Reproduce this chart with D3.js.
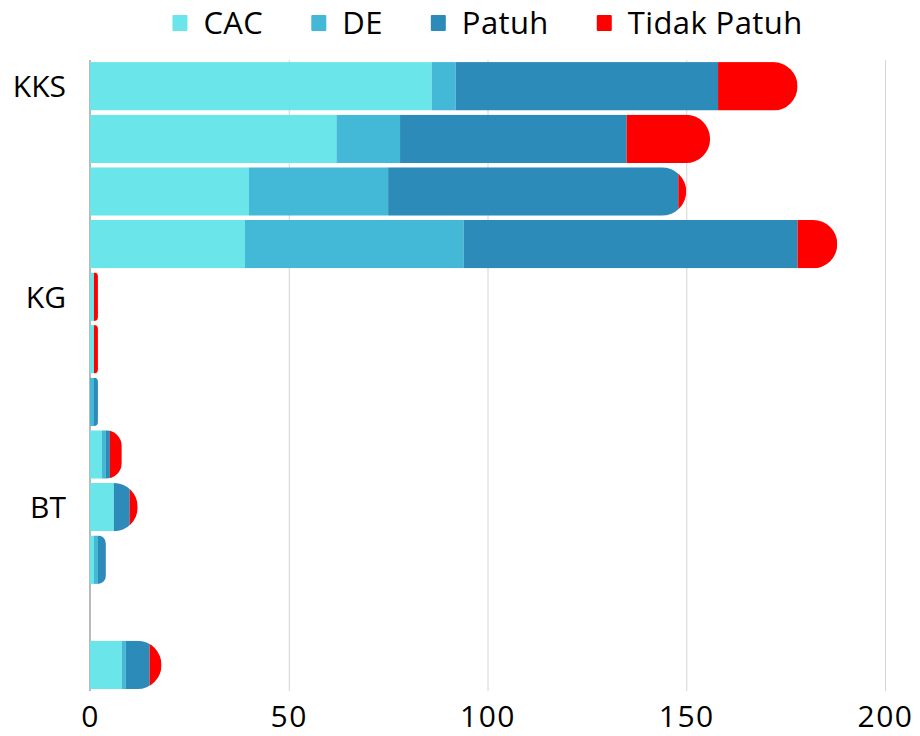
<!DOCTYPE html>
<html>
<head>
<meta charset="utf-8">
<script src="https://cdn.jsdelivr.net/npm/d3@7"></script>
<style>
  html, body { margin: 0; padding: 0; background: #fff; }
  svg { display: block; font-family: "Open Sans", "Liberation Sans", sans-serif; }
</style>
</head>
<body>
<svg id="chart" width="920" height="736"></svg>
<script>
// ---- data ----
const rowLabels = ["KKS", "", "", "", "KG", "", "", "", "BT", "", "", ""];
const seriesNames = ["CAC", "DE", "Patuh", "Tidak Patuh"];
const cacValues    = [86, 62, 40, 39, 1, 1, 0, 3, 6, 1, 0, 8];
const deValues     = [6, 16, 35, 55, 0, 0, 1, 1, 0, 1, 0, 1];
const patuhValues  = [66, 57, 73, 84, 0, 0, 1, 1, 4, 2, 0, 6];
const tidakValues  = [20, 21, 2, 10, 1, 1, 0, 3, 2, 0, 0, 3];
const xTicks = [0, 50, 100, 150, 200];
const colors = ["#6ae5e9", "#43b8d7", "#2d8bba", "#ff0000"];

// ---- build table ----
const rows = rowLabels.map((lab, i) => ({
  idx: i, label: lab,
  "CAC": cacValues[i], "DE": deValues[i], "Patuh": patuhValues[i], "Tidak Patuh": tidakValues[i]
}));

const svg = d3.select("#chart");
const x = d3.scaleLinear().domain([0, 200]).range([90, 885]);
const y = d3.scaleBand().domain(rows.map(d => d.idx)).range([60, 691.2])
  .paddingInner(0.08).paddingOuter(0.04);
const color = d3.scaleOrdinal().domain(seriesNames).range(colors);

// gridlines
const grid = svg.append("g").attr("transform", "translate(0,60)")
  .call(d3.axisBottom(x).tickValues(xTicks.filter(t => t > 0)).tickSize(631).tickFormat(""));
grid.select(".domain").remove();
grid.selectAll("line").attr("stroke", "#d4d4d4").attr("stroke-width", 1);

// y axis line
const yAxis = svg.append("g").attr("transform", "translate(90,0)")
  .call(d3.axisLeft(y).tickSize(0).tickFormat(""));
yAxis.select(".domain").attr("stroke", "#8a8a8a").attr("stroke-width", 1.2)
  .attr("d", `M0,60V691`);

// x tick labels
const xAxis = svg.append("g").attr("transform", "translate(0,691)")
  .call(d3.axisBottom(x).tickValues(xTicks).tickSize(0).tickFormat(d3.format("d")));
xAxis.select(".domain").remove();
xAxis.selectAll("text").attr("dy", null).attr("y", 36)
  .attr("font-size", 30).attr("fill", "#000").attr("font-family", "Open Sans")
  .style("letter-spacing", "1.5px");

// stacked bars
const stack = d3.stack().keys(seriesNames);
const stacked = stack(rows);
const h = y.bandwidth();
const defs = svg.append("defs");

rows.forEach(r => {
  const total = seriesNames.reduce((s, k) => s + r[k], 0);
  if (total <= 0) return;
  const x0 = x(0), x1 = x(total), y0 = y(r.idx), w = x1 - x0;
  const rad = Math.min(h / 2, w / 2);
  const p = `M${x0},${y0}H${x1 - rad}A${rad},${rad} 0 0 1 ${x1},${y0 + rad}` +
            `V${y0 + h - rad}A${rad},${rad} 0 0 1 ${x1 - rad},${y0 + h}H${x0}Z`;
  defs.append("clipPath").attr("id", "clip" + r.idx).append("path").attr("d", p);
});

const layers = svg.append("g").selectAll("g").data(stacked).join("g")
  .attr("fill", d => color(d.key));
layers.selectAll("rect").data(d => d.filter(s => s[1] - s[0] > 0)).join("rect")
  .attr("x", d => x(d[0]))
  .attr("width", d => x(d[1]) - x(d[0]))
  .attr("y", d => y(d.data.idx))
  .attr("height", h)
  .attr("clip-path", d => `url(#clip${d.data.idx})`);

// y labels
svg.append("g").selectAll("text").data(rows.filter(r => r.label)).join("text")
  .attr("x", 66).attr("y", r => y(r.idx) + h / 2).attr("dy", "0.36em")
  .attr("text-anchor", "end").attr("font-size", 30).attr("fill", "#000")
  .text(r => r.label);

// legend
const legend = svg.append("g");
let cx = 0;
seriesNames.forEach((name, i) => {
  const g = legend.append("g");
  g.append("rect").attr("x", cx).attr("y", 15).attr("width", 15).attr("height", 16)
    .attr("rx", 1).attr("fill", colors[i]);
  const t = g.append("text").attr("x", cx + 31).attr("y", 23).attr("dy", "0.36em")
    .attr("font-size", 31).attr("fill", "#000").style("letter-spacing", "0.4px").text(name);
  const tw = t.node().getComputedTextLength();
  cx += 31 + tw + 48;
});
const legendWidth = cx - 48;
legend.attr("transform", `translate(${(90 + 885) / 2 - legendWidth / 2},0)`);
</script>
</body>
</html>
